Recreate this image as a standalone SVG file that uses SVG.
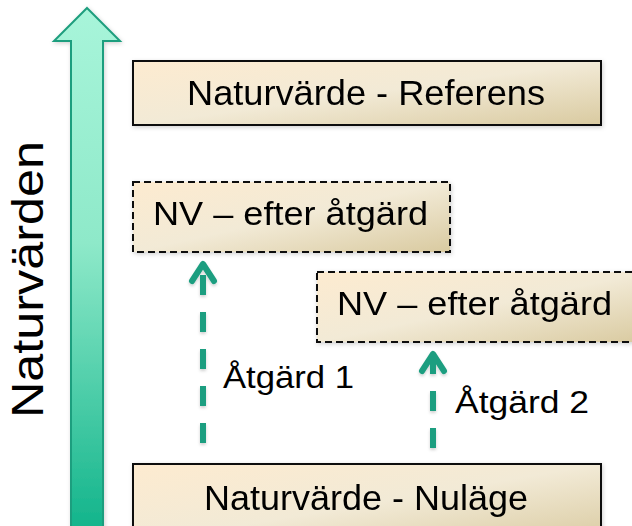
<svg xmlns="http://www.w3.org/2000/svg" width="632" height="526" viewBox="0 0 632 526">
<defs>
<linearGradient id="boxFill" x1="0" y1="0" x2="1" y2="1">
<stop offset="0" stop-color="#fdebd0"/>
<stop offset="0.5" stop-color="#f2ead6"/>
<stop offset="1" stop-color="#d9caa0"/>
</linearGradient>
<linearGradient id="bigArrow" x1="0" y1="0" x2="0" y2="1">
<stop offset="0" stop-color="#a8f5da"/>
<stop offset="0.45" stop-color="#8ee9c9"/>
<stop offset="1" stop-color="#12b48b"/>
</linearGradient>
<filter id="shadow" x="-20%" y="-20%" width="140%" height="140%">
<feDropShadow dx="1" dy="1.5" stdDeviation="2" flood-color="#000" flood-opacity="0.18"/>
</filter>
<filter id="shadowSm" x="-50%" y="-10%" width="200%" height="120%">
<feDropShadow dx="0" dy="2" stdDeviation="1.5" flood-color="#000" flood-opacity="0.18"/>
</filter>
</defs>
<style>
.box{fill:url(#boxFill);stroke:#111;stroke-width:2}
.dash{stroke-dasharray:7 4}
.lbl{font-family:"Liberation Sans",Arial,sans-serif;fill:#000}
.act{fill:none;stroke:#1f9e80;stroke-width:6}
</style>
<g id="axis" filter="url(#shadow)">
<path d="M87,8 L120,41 L103,41 L103,530 L71,530 L71,41 L54,41 Z" fill="url(#bigArrow)" stroke="#1f9e7e" stroke-width="2" stroke-linejoin="miter"/>
</g>
<g id="axis-label">
<text class="lbl" font-size="44" text-anchor="middle" textLength="277" lengthAdjust="spacingAndGlyphs" transform="translate(43,279.5) rotate(-90)">Naturvärden</text>
</g>
<g id="node-referens" filter="url(#shadow)">
<rect class="box" x="133" y="61" width="468" height="64"/>
<text class="lbl" x="187" y="105" font-size="35" textLength="358" lengthAdjust="spacingAndGlyphs">Naturvärde - Referens</text>
</g>
<g id="node-nv1" filter="url(#shadow)">
<rect class="box dash" x="133" y="182" width="317" height="70"/>
<text class="lbl" x="153" y="225" font-size="33" textLength="275" lengthAdjust="spacingAndGlyphs">NV – efter åtgärd</text>
</g>
<g id="node-nv2" filter="url(#shadow)">
<rect class="box dash" x="317" y="272" width="330" height="70"/>
<text class="lbl" x="337" y="315" font-size="33" textLength="275" lengthAdjust="spacingAndGlyphs">NV – efter åtgärd</text>
</g>
<g id="node-nulage" filter="url(#shadow)">
<rect class="box" x="133" y="464" width="468" height="80"/>
<text class="lbl" x="204" y="510" font-size="35" textLength="324" lengthAdjust="spacingAndGlyphs">Naturvärde - Nuläge</text>
</g>
<g id="connectors" filter="url(#shadowSm)">
<line class="act" x1="203" y1="443" x2="203" y2="263" stroke-dasharray="20 17"/>
<polyline class="act" points="192,281 203,264 214,281" stroke-linejoin="round" stroke-linecap="round"/>
<line class="act" x1="433" y1="448" x2="433" y2="354" stroke-dasharray="20 17"/>
<polyline class="act" points="422,371 433,354 444,371" stroke-linejoin="round" stroke-linecap="round"/>
</g>
<g id="labels">
<text class="lbl" x="223" y="388" font-size="31" textLength="131" lengthAdjust="spacingAndGlyphs">Åtgärd 1</text>
<text class="lbl" x="455" y="413" font-size="31" textLength="134" lengthAdjust="spacingAndGlyphs">Åtgärd 2</text>
</g>
</svg>
